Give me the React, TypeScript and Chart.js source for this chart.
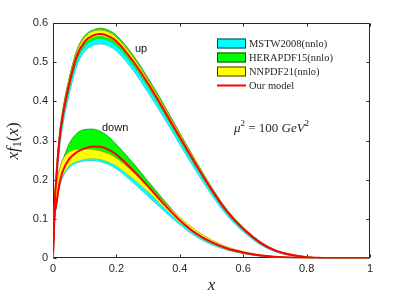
import React, { useEffect, useRef } from "react";
import { Chart, registerables } from "chart.js";
Chart.register(...registerables);

// x grid
const X = [0, 0.005, 0.01, 0.02, 0.03, 0.05, 0.075, 0.1, 0.125, 0.15, 0.175, 0.2, 0.25, 0.3, 0.35, 0.4, 0.45, 0.5, 0.55, 0.6, 0.65, 0.7, 0.75, 0.8, 0.85, 0.9, 0.95, 1];

// up quark
const upModel = [0.01, 0.13, 0.2, 0.3, 0.36, 0.44, 0.515, 0.552, 0.567, 0.571, 0.566, 0.553, 0.505, 0.445, 0.378, 0.308, 0.24, 0.175, 0.118, 0.075, 0.042, 0.02, 0.009, 0.003, 0.001, 0, 0, 0];
const upMstwLo = [0, 0.11, 0.18, 0.275, 0.335, 0.415, 0.49, 0.527, 0.542, 0.546, 0.541, 0.528, 0.482, 0.422, 0.358, 0.29, 0.224, 0.162, 0.108, 0.068, 0.037, 0.017, 0.007, 0.002, 0.0005, 0, 0, 0];
const upMstwHi = [0.01, 0.13, 0.2, 0.3, 0.36, 0.44, 0.515, 0.553, 0.567, 0.57, 0.565, 0.552, 0.504, 0.444, 0.377, 0.307, 0.238, 0.173, 0.117, 0.074, 0.041, 0.019, 0.008, 0.003, 0.001, 0, 0, 0];
const upHeraLo = [0.005, 0.12, 0.19, 0.29, 0.35, 0.43, 0.505, 0.541, 0.556, 0.56, 0.555, 0.542, 0.496, 0.437, 0.371, 0.302, 0.235, 0.171, 0.115, 0.073, 0.04, 0.019, 0.008, 0.003, 0.001, 0, 0, 0];
const upHeraHi = [0.015, 0.145, 0.215, 0.315, 0.375, 0.456, 0.53, 0.567, 0.581, 0.586, 0.581, 0.568, 0.52, 0.459, 0.391, 0.319, 0.249, 0.182, 0.123, 0.079, 0.045, 0.022, 0.01, 0.004, 0.001, 0, 0, 0];
const upNnpdfLo = [0.008, 0.126, 0.196, 0.296, 0.356, 0.436, 0.511, 0.548, 0.563, 0.567, 0.562, 0.549, 0.501, 0.441, 0.374, 0.304, 0.237, 0.172, 0.116, 0.074, 0.041, 0.019, 0.008, 0.003, 0.001, 0, 0, 0];
const upNnpdfHi = [0.014, 0.14, 0.21, 0.31, 0.37, 0.452, 0.526, 0.563, 0.578, 0.581, 0.576, 0.563, 0.515, 0.454, 0.387, 0.316, 0.247, 0.18, 0.122, 0.078, 0.044, 0.021, 0.009, 0.003, 0.001, 0, 0, 0];

// down quark
const dnModel = [0.01, 0.11, 0.135, 0.19, 0.22, 0.252, 0.27, 0.28, 0.285, 0.284, 0.277, 0.264, 0.226, 0.183, 0.138, 0.097, 0.064, 0.041, 0.025, 0.015, 0.008, 0.004, 0.002, 0.001, 0, 0, 0, 0];
const dnMstwLo = [0, 0.1, 0.13, 0.18, 0.205, 0.23, 0.243, 0.248, 0.249, 0.246, 0.239, 0.228, 0.195, 0.158, 0.121, 0.086, 0.056, 0.035, 0.021, 0.012, 0.006, 0.003, 0.001, 0, 0, 0, 0, 0];
const dnMstwHi = [0.02, 0.15, 0.18, 0.225, 0.25, 0.272, 0.285, 0.289, 0.288, 0.284, 0.276, 0.264, 0.228, 0.186, 0.141, 0.099, 0.066, 0.042, 0.026, 0.015, 0.008, 0.004, 0.002, 0.001, 0, 0, 0, 0];
const dnHeraLo = [0, 0.1, 0.13, 0.185, 0.215, 0.245, 0.262, 0.268, 0.27, 0.268, 0.263, 0.252, 0.218, 0.178, 0.135, 0.095, 0.062, 0.039, 0.023, 0.013, 0.007, 0.003, 0.001, 0, 0, 0, 0, 0];
const dnHeraHi = [0.01, 0.12, 0.15, 0.21, 0.245, 0.29, 0.318, 0.328, 0.329, 0.323, 0.31, 0.29, 0.245, 0.196, 0.148, 0.103, 0.067, 0.042, 0.026, 0.015, 0.008, 0.004, 0.002, 0.001, 0, 0, 0, 0];
const dnNnpdfLo = [0.005, 0.1, 0.13, 0.185, 0.21, 0.235, 0.247, 0.253, 0.255, 0.252, 0.246, 0.236, 0.205, 0.17, 0.13, 0.093, 0.062, 0.04, 0.024, 0.014, 0.007, 0.003, 0.001, 0, 0, 0, 0, 0];
const dnNnpdfHi = [0.02, 0.15, 0.18, 0.225, 0.25, 0.27, 0.277, 0.278, 0.277, 0.273, 0.266, 0.255, 0.222, 0.185, 0.143, 0.104, 0.072, 0.047, 0.029, 0.017, 0.009, 0.004, 0.002, 0.001, 0, 0, 0, 0];

const legendLabels = ["MSTW2008(nnlo)", "HERAPDF15(nnlo)", "NNPDF21(nnlo)", "Our model"];

const CYAN = "#00ffff", CYAN_EDGE = "#1f8fc0";
const GREEN = "#00ff00", GREEN_EDGE = "#119911";
const YELLOW = "#ffff00", YELLOW_EDGE = "#c89a20";
const RED = "#ff0000";
const AXIS = "#262626";

const pts = (ys: number[]) => X.map((x, i) => ({ x, y: ys[i] }));

function band(lo: number[], hi: number[], fillCol: string, edge: string) {
  const common = {
    borderColor: edge,
    borderWidth: 0.8,
    pointRadius: 0,
    cubicInterpolationMode: "monotone" as const,
  };
  return [
    { ...common, data: pts(lo), fill: false },
    { ...common, data: pts(hi), fill: "-1", backgroundColor: fillCol },
  ];
}

function redLine(ys: number[]) {
  return {
    data: pts(ys),
    borderColor: RED,
    borderWidth: 2,
    pointRadius: 0,
    fill: false,
    cubicInterpolationMode: "monotone" as const,
  };
}

const fmtTick = (v: any) => String(Math.round(Number(v) * 10) / 10);

const decorPlugin = {
  id: "decor",
  beforeDatasetsDraw(chart: any) {
    const { ctx, chartArea: a, scales } = chart;
    ctx.save();
    ctx.strokeStyle = AXIS;
    ctx.lineWidth = 1;
    const L = Math.round(a.left) + 0.5, R = Math.round(a.right) - 0.5;
    const T = Math.round(a.top) + 0.5, B = Math.round(a.bottom) - 0.5;
    ctx.beginPath();
    ctx.rect(L, T, R - L, B - T);
    ctx.stroke();
    ctx.beginPath();
    for (const t of scales.x.ticks) {
      const p = Math.round(scales.x.getPixelForValue(t.value)) + 0.5;
      ctx.moveTo(p, B); ctx.lineTo(p, B - 3);
      ctx.moveTo(p, T); ctx.lineTo(p, T + 3);
    }
    for (const t of scales.y.ticks) {
      const p = Math.round(scales.y.getPixelForValue(t.value)) + 0.5;
      ctx.moveTo(L, p); ctx.lineTo(L + 3, p);
      ctx.moveTo(R, p); ctx.lineTo(R - 3, p);
    }
    ctx.stroke();
    ctx.restore();
  },
  afterDraw(chart: any) {
    const { ctx } = chart;
    ctx.save();
    // legend
    const swatches = [
      { fill: CYAN },
      { fill: GREEN },
      { fill: YELLOW },
      { line: RED },
    ];
    ctx.textBaseline = "middle";
    ctx.textAlign = "left";
    ctx.font = '10.5px "Liberation Serif", serif';
    swatches.forEach((s: any, i: number) => {
      const cy = 43.5 + i * 14;
      if (s.fill) {
        ctx.fillStyle = s.fill;
        ctx.fillRect(217, cy - 5, 29, 10);
        ctx.strokeStyle = "#333333";
        ctx.lineWidth = 1;
        ctx.strokeRect(217.5, cy - 4.5, 28, 9);
      } else {
        ctx.strokeStyle = s.line;
        ctx.lineWidth = 2;
        ctx.beginPath();
        ctx.moveTo(217, cy);
        ctx.lineTo(246, cy);
        ctx.stroke();
      }
      ctx.fillStyle = AXIS;
      ctx.fillText(legendLabels[i], 249, cy + 0.5);
    });

    // labels up / down
    ctx.font = '11px "Liberation Sans", Arial, sans-serif';
    ctx.fillStyle = "#111111";
    ctx.fillText("up", 135, 49);
    ctx.fillText("down", 102, 128);

    // mu^2 = 100 GeV^2
    const parts: [string, string, number][] = [
      ["μ", 'italic 13px "Liberation Serif", serif', 0],
      ["2", '9px "Liberation Serif", serif', -5],
      [" = 100 ", '13px "Liberation Serif", serif', 0],
      ["GeV", 'italic 13px "Liberation Serif", serif', 0],
      ["2", '9px "Liberation Serif", serif', -5],
    ];
    let total = 0;
    for (const [t, f] of parts) { ctx.font = f; total += ctx.measureText(t).width; }
    let x0 = 271.5 - total / 2;
    ctx.fillStyle = AXIS;
    for (const [t, f, dy] of parts) {
      ctx.font = f;
      ctx.fillText(t, x0, 129 + dy);
      x0 += ctx.measureText(t).width;
    }

    // x axis title
    ctx.font = 'italic 17px "Liberation Serif", serif';
    ctx.textAlign = "center";
    ctx.fillText("x", 211.5, 286);

    // y axis title, rotated
    ctx.translate(14, 141);
    ctx.rotate(-Math.PI / 2);
    const yparts: [string, string, number][] = [
      ["xf", 'italic 17px "Liberation Serif", serif', 0],
      ["1", '12px "Liberation Serif", serif', 4],
      ["(", '17px "Liberation Serif", serif', 0],
      ["x", 'italic 17px "Liberation Serif", serif', 0],
      [")", '17px "Liberation Serif", serif', 0],
    ];
    ctx.textAlign = "left";
    let yt = 0;
    for (const [t, f] of yparts) { ctx.font = f; yt += ctx.measureText(t).width; }
    let yx = -yt / 2;
    for (const [t, f, dy] of yparts) {
      ctx.font = f;
      ctx.fillText(t, yx, dy);
      yx += ctx.measureText(t).width;
    }
    ctx.restore();
  },
};

export default function App() {
  const ref = useRef<HTMLCanvasElement>(null);
  useEffect(() => {
    document.body.style.margin = "0";
    const canvas = ref.current!;
    const list: any[] = [
      ...band(upMstwLo, upMstwHi, CYAN, CYAN_EDGE),
      ...band(dnMstwLo, dnMstwHi, CYAN, CYAN_EDGE),
      ...band(upHeraLo, upHeraHi, GREEN, GREEN_EDGE),
      ...band(dnHeraLo, dnHeraHi, GREEN, GREEN_EDGE),
      ...band(upNnpdfLo, upNnpdfHi, YELLOW, YELLOW_EDGE),
      ...band(dnNnpdfLo, dnNnpdfHi, YELLOW, YELLOW_EDGE),
      redLine(upModel),
      redLine(dnModel),
    ];
    // later entries are drawn on top
    list.forEach((d, i) => { d.order = list.length - i; });
    const chart = new Chart(canvas, {
      type: "line",
      data: { datasets: list },
      options: {
        animation: false,
        responsive: false,
        devicePixelRatio: 1,
        layout: { padding: { left: 0, right: 39, top: 22.7, bottom: 0 } },
        plugins: { legend: { display: false }, tooltip: { enabled: false } },
        scales: {
          x: {
            type: "linear",
            min: 0,
            max: 1,
            grid: { display: false, drawTicks: false },
            border: { display: false },
            ticks: {
              stepSize: 0.2,
              padding: 4,
              color: AXIS,
              font: { family: '"Liberation Sans", Arial, sans-serif', size: 11 },
              maxRotation: 0,
              callback: fmtTick,
            },
            afterFit: (s: any) => { s.height = 39.7; },
          },
          y: {
            type: "linear",
            min: 0,
            max: 0.6,
            grid: { display: false, drawTicks: false },
            border: { display: false },
            ticks: {
              stepSize: 0.1,
              padding: 5,
              color: AXIS,
              font: { family: '"Liberation Sans", Arial, sans-serif', size: 11 },
              callback: fmtTick,
            },
            afterFit: (s: any) => { s.width = 53; },
          },
        },
      },
      plugins: [decorPlugin],
    } as any);
    return () => chart.destroy();
  }, []);
  return <canvas ref={ref} width={409} height={298} style={{ display: "block" }} />;
}
